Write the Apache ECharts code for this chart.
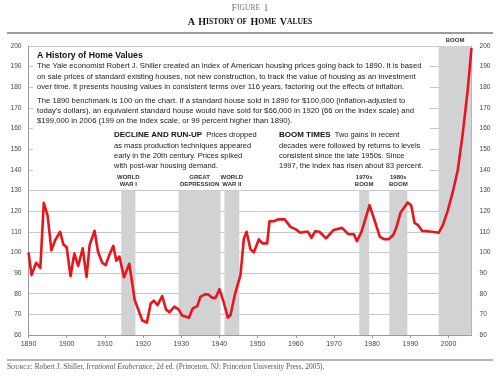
<!DOCTYPE html>
<html><head><meta charset="utf-8">
<script src="https://cdn.jsdelivr.net/npm/echarts@6/dist/echarts.min.js"></script>
<style>html,body{margin:0;padding:0;background:#fff}#c{width:500px;height:384px}</style>
</head><body><div id="c"></div>
<script>
// ---- data ----
const years = [1890,1890.8,1892,1893.1,1894,1895,1896,1897,1898.3,1899.1,1900,1901,1902,1903,1904.2,1905.2,1906,1907.3,1908.2,1909.3,1910.2,1911,1912.2,1913,1913.8,1915,1916.4,1917.8,1919.8,1921,1922,1922.8,1923.8,1925,1926,1926.9,1928.2,1929.3,1930.2,1931.1,1932,1933,1934.2,1935,1936.2,1937,1938.1,1939,1940,1941.1,1942.2,1942.9,1944,1945.5,1946.4,1947.1,1948.1,1949,1950.3,1951.3,1952.5,1953.1,1954.2,1955.5,1957.1,1958.6,1959.9,1961.2,1962.5,1963.2,1964.1,1965.1,1966.2,1967.9,1969.9,1972.1,1973.8,1975.2,1976,1977.2,1979.3,1980.8,1982,1983.2,1984.3,1985.5,1986.3,1987.4,1989.3,1990.2,1991.1,1992,1993.1,1994.4,1995.7,1997.4,1998.5,1999.8,2001.1,2002.4,2003.7,2005,2006];
const values = [100,89,95,92.5,124,118,101,106,110,104,102.5,88.5,99.5,93.5,102,88,103.5,110.5,100.3,95,93.8,98,103.2,96,98,88,94.5,77,67,66,75.3,76.6,74.5,78.9,72.4,71,73.7,72.4,69.5,69,68.4,72.9,74,78.5,79.7,79.7,78,78,82.2,76,68.4,69.7,79.3,89,106.8,110,101.6,100,106.3,104.4,104.4,115.1,115.1,116.1,116,112.4,111.3,109.5,110,110,107,110.3,110,106.8,110.9,111.9,108.8,108.8,105.4,110,122.9,114.5,107.5,106.4,106.4,108.4,111.9,119.2,124.2,122.9,114.3,113.2,110.4,110.3,110,109.5,113.2,120.4,129.3,139.8,157.5,178.5,199];
const xTickLabels = [1890,1900,1910,1920,1930,1940,1950,1960,1970,1980,1990,2000];
const bandNames = ['WORLD\nWAR I','GREAT\nDEPRESSION','WORLD\nWAR II','1970s\nBOOM','1980s\nBOOM','BOOM'];
const bandStart = [1914.3,1929.3,1941.3,1976.6,1984.5,1997.4];
const bandEnd = [1918,1940.3,1945.2,1979.2,1989.2,2006];
const bandTop = [130,130,130,130,130,200];
const boxTitle = 'A History of Home Values';
const para1 = [
 'The Yale economist Robert J. Shiller created an index of American housing prices going back to 1890. It is based',
 'on sale prices of standard existing houses, not new construction, to track the value of housing as an investment',
 'over time. It presents housing values in consistent terms over 116 years, factoring out the effects of inflation.'];
const para2 = [
 'The 1890 benchmark is 100 on the chart. If a standard house sold in 1890 for $100,000 (inflation-adjusted to',
 "today's dollars), an equivalent standard house would have sold for $66,000 in 1920 (66 on the index scale) and",
 '$199,000 in 2006 (199 on the index scale, or 99 percent higher than 1890).'];
const note1Head = 'DECLINE AND RUN-UP';
const note1 = ['Prices dropped','as mass production techniques appeared','early in the 20th century. Prices spiked','with post-war housing demand.'];
const note2Head = 'BOOM TIMES';
const note2 = ['Two gains in recent','decades were followed by returns to levels','consistent since the late 1950s. Since','1997, the index has risen about 83 percent.'];

const SANS = '"Liberation Sans", Arial, sans-serif';
const SERIF = '"Liberation Serif", "Times New Roman", serif';
const chart = echarts.init(document.getElementById('c'), null, {renderer:'canvas'});

const g = [];
g.push({type:'line', shape:{x1:7,y1:33,x2:493,y2:33}, style:{stroke:'#9c9c9c', lineWidth:2}});
g.push({type:'line', shape:{x1:7,y1:360,x2:493,y2:360}, style:{stroke:'#9c9c9c', lineWidth:1.5}});
g.push({type:'text', x:250, y:8, style:{text:'{c|F}{s|IGURE} {c|1}', align:'center', verticalAlign:'middle',
  rich:{c:{fontSize:10, fontFamily:SERIF, fill:'#777'}, s:{fontSize:7.6, fontFamily:SERIF, fill:'#777'}}}});
g.push({type:'text', x:250, y:22, style:{text:'{c|A} {c|H}{s|ISTORY OF} {c|H}{s|OME} {c|V}{s|ALUES}', align:'center', verticalAlign:'middle',
  rich:{c:{fontSize:10, fontWeight:'bold', fontFamily:SERIF, fill:'#111'}, s:{fontSize:7.6, fontWeight:'bold', fontFamily:SERIF, fill:'#111'}}}});
g.push({type:'text', x:7, y:367.5, style:{text:'{c|S}{s|OURCE}{n|: Robert J. Shiller, }{i|Irrational Exuberance}{n|, 2d ed. (Princeton, NJ: Princeton University Press, 2005).}', verticalAlign:'middle',
  rich:{c:{fontSize:7.4, fontFamily:SERIF, fill:'#555'}, s:{fontSize:5.8, fontFamily:SERIF, fill:'#555'}, n:{fontSize:7.4, fontFamily:SERIF, fill:'#555'}, i:{fontSize:7.4, fontStyle:'italic', fontFamily:SERIF, fill:'#555'}}}});
// white annotation box
g.push({type:'rect', z:10, shape:{x:33,y:47.5,width:397,height:126}, style:{fill:'#fff'}});
g.push({type:'text', z:11, x:37, y:56, style:{text:boxTitle, verticalAlign:'middle', font:'bold 8.7px '+SANS, fill:'#111'}});
para1.forEach((t,i)=>g.push({type:'text', z:11, x:37, y:66.3+i*10.3, style:{text:t, verticalAlign:'middle', font:'7.7px '+SANS, fill:'#1a1a1a'}}));
para2.forEach((t,i)=>g.push({type:'text', z:11, x:37, y:100.7+i*10.3, style:{text:t, verticalAlign:'middle', font:'7.7px '+SANS, fill:'#1a1a1a'}}));
function note(x, head, lines){
  g.push({type:'text', z:11, x:x, y:135, style:{text:'{b|'+head+'}{r|  '+lines[0]+'}', verticalAlign:'middle',
    rich:{b:{fontSize:8, fontWeight:'bold', fontFamily:SANS, fill:'#111'}, r:{fontSize:7.5, fontFamily:SANS, fill:'#1a1a1a'}}}});
  lines.slice(1).forEach((t,i)=>g.push({type:'text', z:11, x:x, y:145.5+i*10.2, style:{text:t, verticalAlign:'middle', font:'7.5px '+SANS, fill:'#1a1a1a'}}));
}
note(114, note1Head, note1);
note(279, note2Head, note2);

const bands = bandNames.map((n,i)=>[{name:n, xAxis:bandStart[i], yAxis:60},{xAxis:bandEnd[i], yAxis:bandTop[i]}]);

chart.setOption({
  animation:false,
  grid:{left:28.5, right:28.5, top:46, bottom:49},
  xAxis:{type:'value', min:1890, max:2006,
    axisLine:{show:true, lineStyle:{color:'#999', width:1}},
    axisTick:{show:true, customValues:xTickLabels, length:3, lineStyle:{color:'#999'}},
    axisLabel:{customValues:xTickLabels, formatter:(v)=>String(v), fontSize:7, color:'#444', margin:6, fontFamily:SANS},
    splitLine:{show:false}},
  yAxis:[
    {type:'value', min:60, max:200, interval:10, position:'left',
     axisLine:{show:true, lineStyle:{color:'#999'}}, axisTick:{show:false},
     axisLabel:{fontSize:6.6, color:'#444', margin:7, fontFamily:SANS},
     splitLine:{show:true, lineStyle:{color:'#c8c8c8', width:1}}},
    {type:'value', min:60, max:200, interval:10, position:'right',
     axisLine:{show:true, lineStyle:{color:'#999'}}, axisTick:{show:false},
     axisLabel:{fontSize:6.6, color:'#444', margin:8, fontFamily:SANS},
     splitLine:{show:false}}
  ],
  series:[{type:'line', yAxisIndex:0, data:years.map((y,i)=>[y, values[i]]),
    showSymbol:false, symbol:'none', smooth:false,
    lineStyle:{color:'#e8151c', width:2.6, join:'round'},
    markArea:{silent:true, itemStyle:{color:'#d1d2d4'},
      label:{show:true, position:'top', distance:2, fontSize:6, fontWeight:'bold', lineHeight:7.5, color:'#333', fontFamily:SANS, align:'center'},
      data:bands}
  }],
  graphic:g
});
</script></body></html>
